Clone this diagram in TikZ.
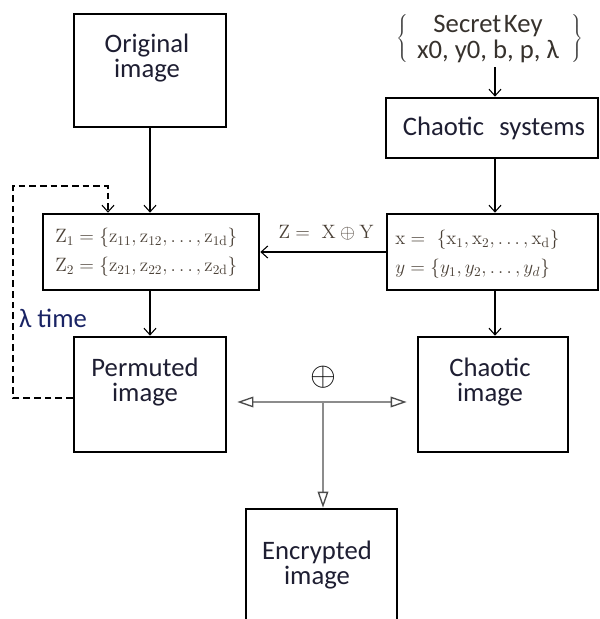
\documentclass[tikz,border=0pt]{standalone}
\usepackage{fontspec}
\newfontfamily\calfont{Carlito}
\usetikzlibrary{arrows.meta,calc}
\definecolor{txt}{RGB}{30,30,50}
\definecolor{mtxt}{RGB}{75,65,55}
\definecolor{ktxt}{RGB}{55,50,45}
\definecolor{lamblue}{RGB}{25,35,100}
\definecolor{garr}{RGB}{140,140,140}
\tikzset{
  box/.style={draw=black, line width=2pt, rectangle, inner sep=0pt, fill=white},
  lbl/.style={font=\calfont\fontsize{20}{19}\selectfont, text=txt, align=center, inner sep=0pt},
  mlbl/.style={font=\fontsize{14.5}{21.75}\selectfont, text=mtxt, align=left, inner sep=0pt},
  arr/.style={draw=black, line width=0.8pt, -{Straight Barb[length=5pt,width=9pt]}},
  garrow/.style={draw=garr, line width=1.6pt, -{Triangle[open,length=12pt,width=8pt,line width=1pt,color=black!70]}},
  dsh/.style={draw=black, line width=0.8pt, dash pattern=on 5pt off 3pt, -{Straight Barb[length=5pt,width=9pt]}}
}
\begin{document}
\begin{tikzpicture}[x=0.75pt,y=-0.75pt]
\useasboundingbox (0,0) rectangle (600,619);
\clip (0,0) rectangle (600,619);
% boxes
\node[box, minimum width=114pt, minimum height=84.75pt] (orig) at (150,70.5) {};
\node[box, minimum width=159pt, minimum height=45pt] (chs) at (492,128) {};
\node[box, minimum width=162pt, minimum height=57pt] (zbox) at (151,252) {};
\node[box, minimum width=158.25pt, minimum height=57pt] (xbox) at (492.5,252) {};
\node[box, minimum width=114pt, minimum height=86.25pt] (perm) at (150,394.5) {};
\node[box, minimum width=112.5pt, minimum height=86.25pt] (chim) at (493,394.5) {};
\node[box, minimum width=113.25pt, minimum height=86.25pt] (enc) at (321.5,566.5) {};
% texts
\node[lbl] (origT) at (147,58) {Original\\image};
\node[lbl] (chsT) at (494,128) {Chaotic\hspace{0.35em} systems};
\node[lbl] (permT) at (145,382) {Permuted\\image};
\node[lbl] (chimT) at (490,382) {Chaotic\\image};
\node[lbl] (encT) at (317,565) {Encrypted\\image};
\node[lbl, text=ktxt] (keyT) at (488,39) {Secret\hspace{0.1em}Key\\x0, y0, b, p, λ};
\node[inner sep=0pt, text=black!75] (lbr) at (403,39) {$\left\{\vrule height 19pt depth 17pt width 0pt\right.$};
\node[inner sep=0pt, text=black!75] (rbr) at (577,39) {$\left.\vrule height 19pt depth 17pt width 0pt\right\}$};
\node[mlbl, anchor=west] (zT) at (55,252) {$\mathrm{Z}_1 = \{\mathrm{z}_{11}, \mathrm{z}_{12},\ldots, \mathrm{z}_{1\mathrm{d}}\}$\\$\mathrm{Z}_2 = \{\mathrm{z}_{21}, \mathrm{z}_{22},\ldots, \mathrm{z}_{2\mathrm{d}}\}$};
\node[mlbl, anchor=west] (xT) at (395,254) {$\mathrm{x} =\ \{\mathrm{x}_1, \mathrm{x}_2,\ldots, \mathrm{x}_\mathrm{d}\}$\\$y = \{y_1, y_2,\ldots, y_d\}$};
\node[mlbl, anchor=center] (zlab) at (326,233) {$\mathrm{Z} =\ \mathrm{X} \oplus \mathrm{Y}$};
\node[lbl, text=lamblue] (lam) at (53,318) {λ time};
\node[inner sep=0pt, font=\fontsize{26}{26}\selectfont] (xor) at (323,377) {$\oplus$};
% connectors
\coordinate (ka) at (495,67);
\draw[arr] (ka) -- (ka |- chs.north);
\draw[arr] (chs.south -| ka) -- (xbox.north -| ka);
\draw[arr] (xbox.south -| ka) -- (chim.north -| ka);
\draw[arr] (orig.south) -- (orig.south |- zbox.north);
\draw[arr] (zbox.south -| perm.north) -- (perm.north);
\draw[arr] (xbox.west) -- (zbox.east);
% dashed loop
\coordinate (d1) at (13,398);
\coordinate (d2) at (13,186);
\coordinate (d3) at (108,186);
\draw[dsh] (perm.west |- d1) -- (d1) -- (d2) -- (d3) -- (d3 |- zbox.north);
% xor arrows
\coordinate (mid) at (323,402);
\draw[garrow, shorten >=7.5pt] (mid) -- (perm.east |- mid);
\draw[garrow, shorten >=7.5pt] (mid) -- (chim.west |- mid);
\draw[garrow] (mid) -- (mid |- enc.north);
\end{tikzpicture}
\end{document}
